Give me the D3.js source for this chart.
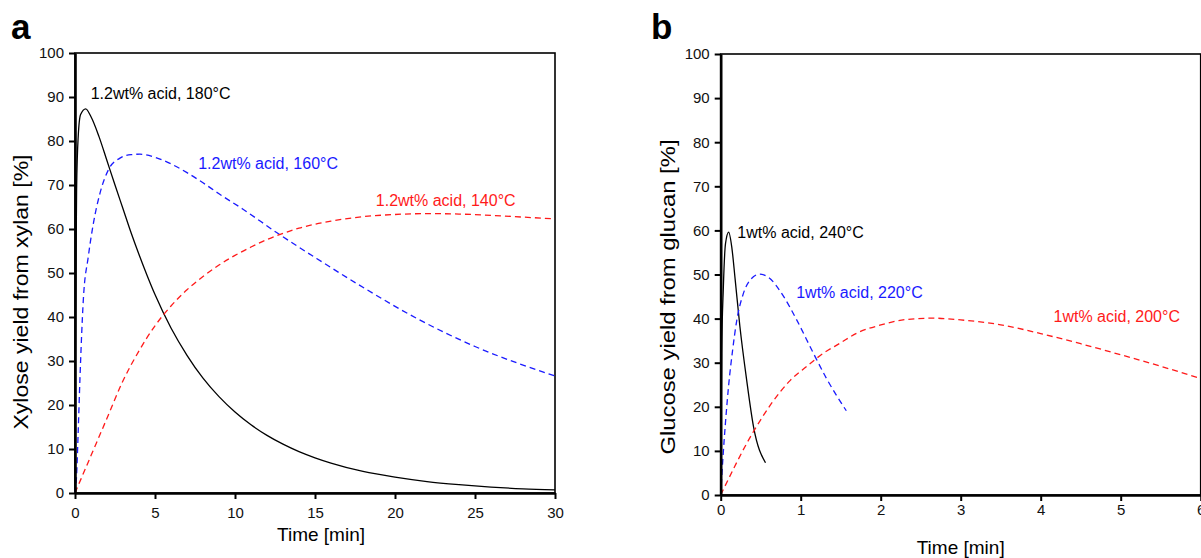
<!DOCTYPE html>
<html>
<head>
<meta charset="utf-8">
<script src="https://cdn.jsdelivr.net/npm/d3@7"></script>
<style>
	body { margin: 0; background: #fff; }
	text { font-family: "Liberation Sans", Arial, sans-serif; }
</style>
</head>
<body>
<script>

// panel a - xylose yield, 1.2wt% acid
var timeA180 = [0, 0.012, 0.05, 0.1, 0.2, 0.35, 0.67, 1.0, 1.5, 2.0, 2.5, 3.0, 3.5, 4.0, 4.5, 5, 6, 7, 8, 9, 10, 11, 12, 13, 14, 15, 16, 18, 20, 22, 24, 26, 28, 30]
var yieldA180 = [0, 25, 45, 69, 81, 86, 87.3, 85.5, 81, 75.5, 70, 64.6, 59.2, 54.2, 49.5, 45.1, 37.5, 31.3, 26.1, 21.9, 18.4, 15.5, 13.1, 11.1, 9.4, 8.0, 6.8, 4.9, 3.6, 2.6, 1.9, 1.35, 0.95, 0.7]

var timeA160 = [0, 0.1, 0.2, 0.31, 0.52, 0.83, 1.15, 1.56, 2.08, 2.81, 3.5, 4.06, 5, 6, 7, 8, 9, 10.5, 12.6, 15.1, 18.2, 21.4, 25, 30]
var yieldA160 = [0, 4, 14, 26, 43.9, 53.7, 61.3, 68.1, 73.4, 76.1, 76.9, 77, 76.3, 74.8, 72.8, 70.5, 68, 64.5, 59.2, 53.3, 46.3, 39.6, 33.3, 26.6]

var timeA140 = [0, 1, 2, 3, 4, 5, 6, 7, 8, 9, 10, 11, 12, 13, 14, 15, 16, 18, 20, 22, 24, 26, 28, 30]
var yieldA140 = [0, 8.5, 17, 25.5, 32.3, 38, 42.5, 46.2, 49.2, 51.8, 54, 55.9, 57.6, 59, 60.2, 61.1, 61.8, 62.8, 63.3, 63.5, 63.4, 63.1, 62.7, 62.3]

// panel b - glucose yield, 1wt% acid
var timeB240 = [0, 0.012, 0.033, 0.06, 0.1, 0.14, 0.18, 0.24, 0.325, 0.41, 0.56]
var yieldB240 = [0, 32, 47, 57, 59.6, 56, 49, 38.2, 26, 15.5, 7.3]

var timeB220 = [0, 0.03, 0.06, 0.1, 0.15, 0.2, 0.28, 0.38, 0.49, 0.6, 0.78, 0.95, 1.16, 1.32, 1.57]
var yieldB220 = [0, 9, 16.5, 25, 33, 39.5, 45.5, 49, 50.1, 49.3, 45.2, 39.7, 32.1, 26.5, 19.1]

var timeB200 = [0, 0.41, 0.87, 1.07, 1.28, 1.49, 1.7, 1.99, 2.32, 2.66, 3.0, 3.5, 4.0, 4.5, 5.0, 5.5, 6.0]
var yieldB200 = [0, 14.4, 26, 29.1, 32.1, 34.4, 36.7, 38.5, 39.8, 40.1, 39.7, 38.6, 36.6, 34.3, 31.8, 29.2, 26.4]

var xTicksA = [0, 5, 10, 15, 20, 25, 30]
var xTicksB = [0, 1, 2, 3, 4, 5, 6]
var yTicks = [0, 10, 20, 30, 40, 50, 60, 70, 80, 90, 100]

var labelsA = ["1.2wt% acid, 180°C", "1.2wt% acid, 160°C", "1.2wt% acid, 140°C"]
var labelsB = ["1wt% acid, 240°C", "1wt% acid, 220°C", "1wt% acid, 200°C"]

var black = "#000", blue = "#1a1aff", red = "#ff1a1a"

function zip(t, v) { return t.map(function(d, i) { return [d, v[i]] }) }

var svg = d3.select("body").append("svg")
	.attr("width", 1201)
	.attr("height", 558)

function panel(opt) {
	var x = d3.scaleLinear().domain([0, opt.xMax]).range([opt.left, opt.left + 480])
	var y = d3.scaleLinear().domain([0, 100]).range([opt.bottom, opt.top])
	var g = svg.append("g")

	// thin frame on top / right
	g.append("rect")
		.attr("x", opt.left).attr("y", opt.top)
		.attr("width", 480).attr("height", opt.bottom - opt.top)
		.attr("fill", "none").attr("stroke", "#000").attr("stroke-width", 1.6)

	var line = d3.line()
		.x(function(d) { return x(d[0]) })
		.y(function(d) { return y(d[1]) })
		.curve(d3.curveMonotoneX)

	opt.series.forEach(function(s) {
		g.append("path")
			.datum(zip(s.t, s.v))
			.attr("d", line)
			.attr("fill", "none")
			.attr("stroke", s.color)
			.attr("stroke-width", 1.3)
			.attr("stroke-dasharray", s.dash ? "6,4" : null)
		g.append("text")
			.attr("x", x(s.lx)).attr("y", y(s.ly))
			.attr("fill", s.color)
			.attr("font-size", 16)
			.text(s.label)
	})

	var xAxis = g.append("g")
		.attr("transform", "translate(0," + opt.bottom + ")")
		.call(d3.axisBottom(x).tickValues(opt.xTicks).tickFormat(d3.format("d"))
			.tickSize(6).tickSizeOuter(0).tickPadding(opt.xPad))
	var yAxis = g.append("g")
		.attr("transform", "translate(" + opt.left + ",0)")
		.call(d3.axisLeft(y).tickValues(yTicks).tickSize(6).tickSizeOuter(0).tickPadding(5))

	;[xAxis, yAxis].forEach(function(a) {
		a.select(".domain").attr("stroke-width", 2.6)
		a.selectAll(".tick line").attr("stroke-width", 2)
		a.selectAll("text").attr("font-size", 15).attr("font-family", "Liberation Sans, Arial, sans-serif").attr("fill", "#111")
	})

	g.append("text")
		.attr("x", opt.left + 240 + opt.xTitleShift).attr("y", opt.xTitleY)
		.attr("text-anchor", "middle")
		.attr("font-size", 19)
		.text("Time [min]")

	g.append("text")
		.attr("transform", "translate(" + opt.yTitleX + "," + opt.yTitleY + ") rotate(-90)")
		.attr("text-anchor", "middle")
		.attr("font-size", 20)
		.attr("textLength", opt.yTitleLen)
		.attr("lengthAdjust", "spacingAndGlyphs")
		.text(opt.yTitle)

	g.append("text")
		.attr("x", opt.letterX).attr("y", 39)
		.attr("font-size", 35).attr("font-weight", "bold")
		.text(opt.letter)
}

panel({
	left: 75, top: 53, bottom: 493, xMax: 30, xTicks: xTicksA, xPad: 8,
	xTitleShift: 6, xTitleY: 541,
	yTitle: "Xylose yield from xylan [%]", yTitleX: 28, yTitleY: 292, yTitleLen: 275,
	letter: "a", letterX: 11,
	series: [
		{t: timeA180, v: yieldA180, color: black, dash: false, label: labelsA[0], lx: 0.98, ly: 89.5},
		{t: timeA160, v: yieldA160, color: blue, dash: true, label: labelsA[1], lx: 7.7, ly: 73.6},
		{t: timeA140, v: yieldA140, color: red, dash: true, label: labelsA[2], lx: 18.8, ly: 65.2}
	]
})

panel({
	left: 720.7, top: 54, bottom: 495, xMax: 6, xTicks: xTicksB, xPad: 3,
	xTitleShift: 0, xTitleY: 554,
	yTitle: "Glucose yield from glucan [%]", yTitleX: 675, yTitleY: 297, yTitleLen: 315,
	letter: "b", letterX: 651,
	series: [
		{t: timeB240, v: yieldB240, color: black, dash: false, label: labelsB[0], lx: 0.208, ly: 58.2},
		{t: timeB220, v: yieldB220, color: blue, dash: true, label: labelsB[1], lx: 0.944, ly: 44.6},
		{t: timeB200, v: yieldB200, color: red, dash: true, label: labelsB[2], lx: 4.16, ly: 39.3}
	]
})

</script>
</body>
</html>
